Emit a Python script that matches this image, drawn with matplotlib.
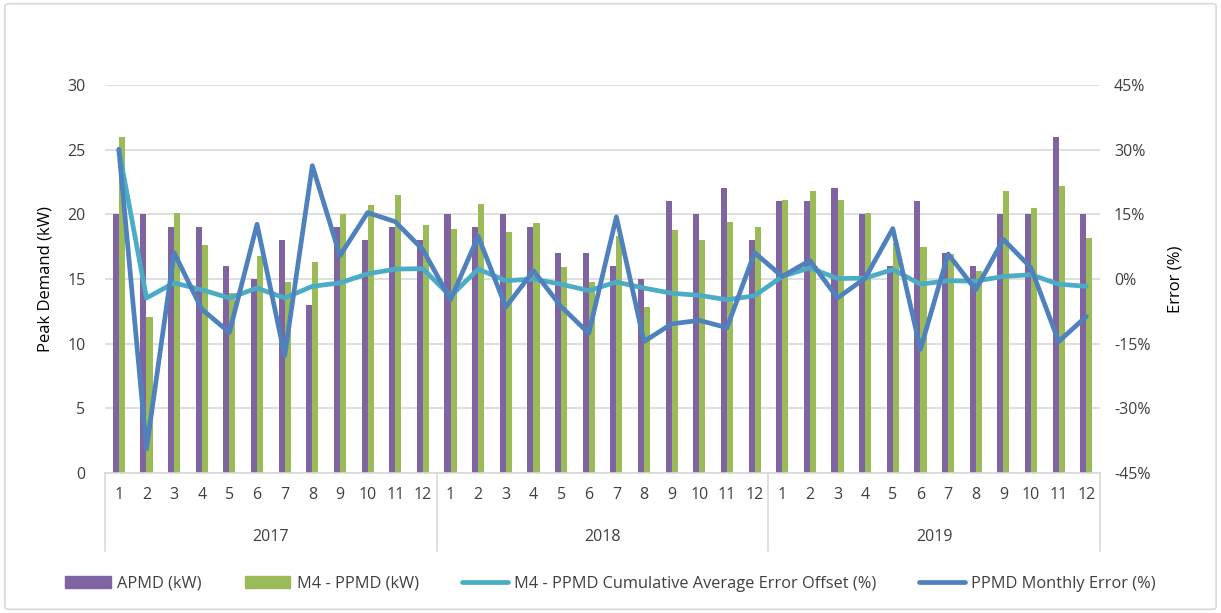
import matplotlib.pyplot as plt
import matplotlib.transforms as mtransforms
from matplotlib.patches import Patch, FancyBboxPatch
from matplotlib.lines import Line2D
from matplotlib.ticker import FuncFormatter
import numpy as np

plt.rcParams['font.family'] = ['Open Sans', 'DejaVu Sans']

# data
years = ['2017', '2018', '2019']
months = [str(m) for m in range(1, 13)]

apmd = [20, 20, 19, 19, 16, 15, 18, 13, 19, 18, 19, 18,
        20, 19, 20, 19, 17, 17, 16, 15, 21, 20, 22, 18,
        21, 21, 22, 20, 16, 21, 17, 16, 20, 20, 26, 20]
ppmd = [26.0, 12.1, 20.1, 17.6, 13.9, 16.8, 14.8, 16.3, 20.0, 20.7, 21.5, 19.2,
        18.9, 20.8, 18.6, 19.3, 15.9, 14.8, 18.3, 12.8, 18.8, 18.0, 19.4, 19.0,
        21.1, 21.8, 21.1, 20.1, 17.8, 17.5, 16.9, 15.6, 21.8, 20.5, 22.2, 18.2]
cum_err = [30.0, -4.4, -0.9, -2.5, -4.4, -2.1, -4.4, -1.7, -0.9, 1.2, 2.3, 2.4,
           -4.0, 2.3, -0.4, 0.0, -1.2, -2.7, -0.7, -2.1, -3.3, -3.8, -4.8, -3.9,
           0.6, 2.6, 0.1, 0.2, 2.2, -1.2, -0.4, -0.5, 0.6, 1.0, -1.2, -1.7]
monthly_err = [30.1, -39.4, 6.1, -7.0, -12.4, 12.7, -17.8, 26.3, 5.4, 15.4, 13.3, 6.8,
               -4.8, 9.9, -6.5, 1.9, -6.4, -12.6, 14.4, -14.5, -10.4, -9.6, -11.3, 6.1,
               0.6, 4.3, -4.4, 0.2, 11.7, -16.3, 5.8, -2.5, 9.2, 2.6, -14.5, -8.7]

purple = '#8064A2'
green = '#9BBB59'
cyan = '#4BACC6'
blue = '#4F81BD'
grid_c = '#D9D9D9'
text_c = '#404040'

fig = plt.figure(figsize=(12.21, 6.13), dpi=100)
fig.patches.append(FancyBboxPatch((0.004, 0.006), 0.992, 0.988,
                                  boxstyle='round,pad=0,rounding_size=0.004',
                                  transform=fig.transFigure, fill=False,
                                  edgecolor='#D9D9D9', linewidth=1.2))
ax = fig.add_axes([0.086, 0.2284, 0.815, 0.6329])
ax2 = ax.twinx()

n = len(apmd)
x = np.arange(n)
w = 0.22

ax.bar(x - w / 2, apmd, width=w, color=purple, zorder=2)
ax.bar(x + w / 2, ppmd, width=w, color=green, zorder=2)

ax2.plot(x, cum_err, color=cyan, linewidth=3.4, solid_joinstyle='round',
         solid_capstyle='round', zorder=3)
ax2.plot(x, monthly_err, color=blue, linewidth=3.4, solid_joinstyle='round',
         solid_capstyle='round', zorder=4)

ax.set_xlim(-0.5, n - 0.5)
ax.set_ylim(0, 30)
ax.set_yticks(range(0, 31, 5))
ax2.set_ylim(-45, 45)
ax2.set_yticks(range(-45, 46, 15))
ax2.yaxis.set_major_formatter(FuncFormatter(lambda v, p: '%d%%' % v))

ax.yaxis.grid(True, color=grid_c, linewidth=1.2, zorder=0)
ax.set_axisbelow(True)

for a in (ax, ax2):
    for s in a.spines.values():
        s.set_visible(False)
    a.tick_params(axis='y', length=0, labelsize=11.5, labelcolor=text_c)
ax.tick_params(axis='y', pad=14)
ax2.tick_params(axis='y', pad=10)

ax.set_xticks(x)
ax.set_xticklabels(months * len(years))
ax.tick_params(axis='x', length=0, labelsize=11.5, labelcolor=text_c, pad=10)

ax.set_ylabel('Peak Demand (kW)', fontsize=12, color='black', labelpad=10)
ax2.set_ylabel('Error (%)', fontsize=12, color='black', labelpad=12)

# category axis with year groups
trans = mtransforms.blended_transform_factory(ax.transData, ax.transAxes)
ax.plot([-0.5, n - 0.5], [0, 0], transform=trans, color=grid_c,
        linewidth=1.2, clip_on=False, zorder=5)
for i in range(len(years) + 1):
    xb = i * 12 - 0.5
    ax.plot([xb, xb], [0, -0.2], transform=trans, color=grid_c,
            linewidth=1.2, clip_on=False)
for i, yr in enumerate(years):
    ax.text(i * 12 + 5.5, -0.165, yr, transform=trans, ha='center',
            va='center', fontsize=11.5, color=text_c)

handles = [Patch(color=purple), Patch(color=green),
           Line2D([], [], color=cyan, linewidth=3.4, solid_capstyle='round'),
           Line2D([], [], color=blue, linewidth=3.4, solid_capstyle='round')]
labels = ['APMD (kW)', 'M4 - PPMD (kW)',
          'M4 - PPMD Cumulative Average Error Offset (%)',
          'PPMD Monthly Error (%)']
fig.legend(handles, labels, loc='center', bbox_to_anchor=(0.5, 0.048),
           ncol=4, frameon=False, fontsize=11.8, handlelength=2.8,
           columnspacing=2.6, handletextpad=0.4, labelcolor=text_c)

fig.savefig('out.png', dpi=100)
